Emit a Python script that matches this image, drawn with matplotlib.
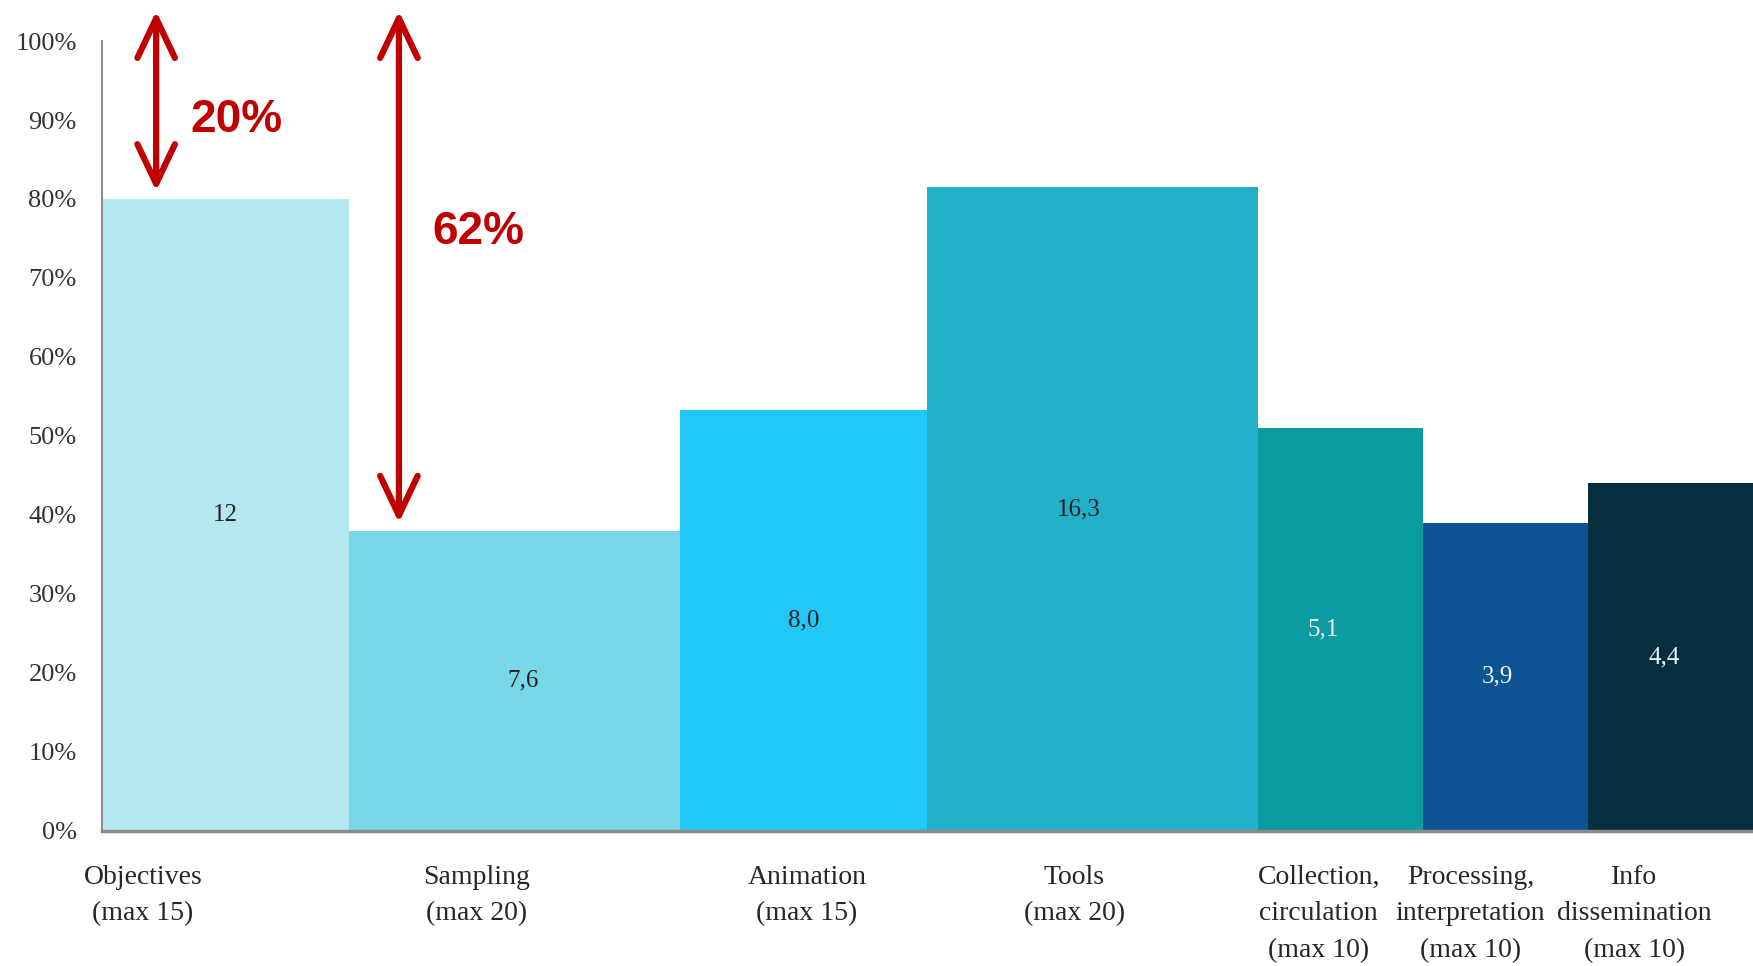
import matplotlib
matplotlib.use("Agg")
import matplotlib.pyplot as plt
from matplotlib.patches import FancyArrowPatch
import numpy as np

# ---- data ----
categories = ["Objectives\n(max 15)", "Sampling\n(max 20)", "Animation\n(max 15)",
              "Tools\n(max 20)", "Collection,\ncirculation\n(max 10)",
              "Processing,\ninterpretation\n(max 10)", "Info\ndissemination\n(max 10)"]
max_scores = [15, 20, 15, 20, 10, 10, 10]
scores = [12, 7.6, 8.0, 16.3, 5.1, 3.9, 4.4]
score_labels = ["12", "7,6", "8,0", "16,3", "5,1", "3,9", "4,4"]
colors = ["#B3E8F1", "#79D8E7", "#22C8F5", "#22B0C9", "#0A9CA0", "#0C5394", "#052F40"]
value_text_colors = ["#222222", "#222222", "#222222", "#222222", "#F2F2F2", "#F2F2F2", "#F2F2F2"]
yticks = [0, 0.1, 0.2, 0.3, 0.4, 0.5, 0.6, 0.7, 0.8, 0.9, 1.0]
ytick_labels = ["0%", "10%", "20%", "30%", "40%", "50%", "60%", "70%", "80%", "90%", "100%"]
gap_categories = [0, 1]  # bars annotated with gap-to-100% arrows

# ---- layout ----
label_offsets = [-5.0, -2.3, 0.2, -1.1, -1.3, -2.1, -2.2]  # x offsets of category labels
value_offsets = [0, 0.5, 0, -0.8, -1.0, -0.5, -0.4]
arrow_offsets = [3.3, 3.0]
red = "#C00000"

widths = np.array(max_scores, dtype=float)
lefts = np.concatenate([[0], np.cumsum(widths)[:-1]])
heights = np.array(scores) / widths
centers = lefts + widths / 2

fig = plt.figure(figsize=(17.53, 9.66), dpi=100)
ax = fig.add_axes([0.058, 0.140, 0.942, 0.8175])

ax.bar(lefts, heights, width=widths, align="edge", color=colors, edgecolor="none")

ax.set_xlim(0, widths.sum())
ax.set_ylim(0, 1.0)
ax.set_yticks(yticks)
ax.set_yticklabels(ytick_labels, family="Liberation Serif", fontsize=19, color="#333333")
ax.tick_params(axis="y", length=0, pad=18)
ax.set_xticks([])

for s in ["top", "right"]:
    ax.spines[s].set_visible(False)
ax.spines["left"].set_color("#8C8C8C")
ax.spines["left"].set_linewidth(1.5)
ax.spines["bottom"].set_color("#8C8C8C")
ax.spines["bottom"].set_linewidth(2.5)

# value labels
for c, off, h, lab, tc in zip(centers, value_offsets, heights, score_labels, value_text_colors):
    ax.text(c + off, h / 2, lab, ha="center", va="center", fontsize=18,
            family="Liberation Serif", color=tc)

# category labels
for c, off, lab in zip(centers, label_offsets, categories):
    ax.text(c + off, -0.043, lab, ha="center", va="top", fontsize=20,
            family="Liberation Serif", color="#262626", linespacing=1.62,
            transform=ax.transData, clip_on=False)

# gap arrows
for i, off in zip(gap_categories, arrow_offsets):
    x = lefts[i] + off
    arr = FancyArrowPatch((x, heights[i] + 0.01), (x, 1.038),
                          arrowstyle="<->,head_length=0.95,head_width=0.45",
                          mutation_scale=30, color=red, lw=4.5,
                          shrinkA=0, shrinkB=0, capstyle="round",
                          joinstyle="round", clip_on=False)
    ax.add_patch(arr)

gap_text_pos = [(5.4, 0.90), (20.0, 0.758)]
for i, (tx, ty) in zip(gap_categories, gap_text_pos):
    gap = round((1 - heights[i]) * 100)
    ax.text(tx, ty, f"{gap}%", ha="left", va="center", fontsize=33,
            family="Liberation Sans", fontweight="bold", color=red)

fig.savefig("out.png", dpi=100, facecolor="white")
